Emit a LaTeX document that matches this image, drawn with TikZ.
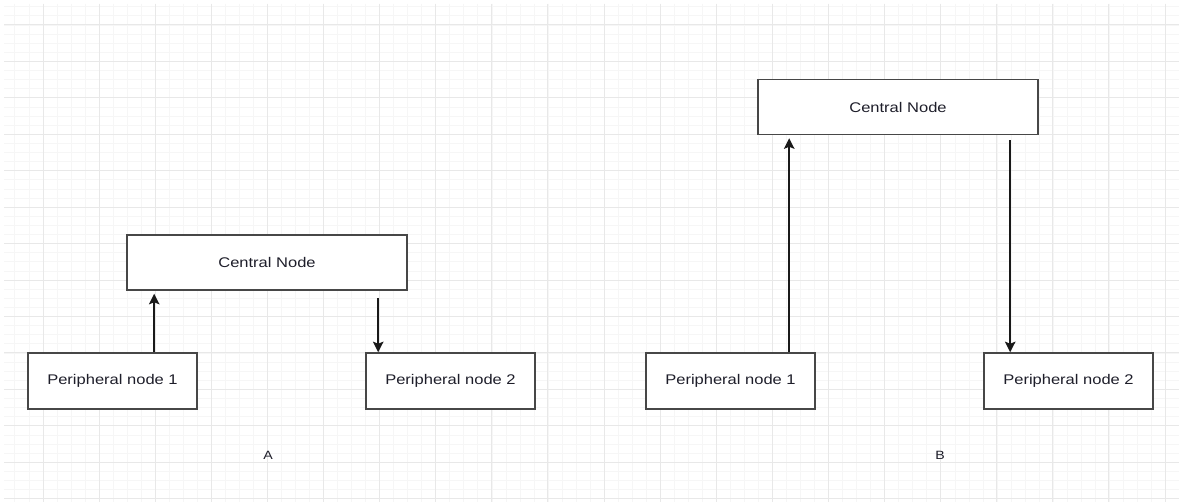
\documentclass[tikz,border=0pt]{standalone}
\usepackage{fontspec}
\newfontfamily\boxfont[FakeStretch=1.18]{Liberation Sans}
\usetikzlibrary{arrows.meta,calc}
\definecolor{gridminor}{HTML}{F6F6F6}
\definecolor{gridmajor}{HTML}{E8E8E8}
\definecolor{boxline}{HTML}{474747}
\definecolor{inktext}{HTML}{1E1E2A}
\begin{document}
\begin{tikzpicture}[x=1pt,y=-1pt,
  box/.style={draw=boxline,line width=1.6pt,fill=white,rectangle,inner sep=0pt,
    font=\boxfont\fontsize{14}{16}\selectfont,text=inktext},
  hub/.style={box,minimum width=280pt,minimum height=55pt},
  leaf/.style={box,minimum width=169pt,minimum height=56pt},
  caption/.style={font=\boxfont\fontsize{12}{14}\selectfont,text=inktext,inner sep=0pt},
  arr/.style={draw=black!90,line width=1.8pt,-{Stealth[length=10.5pt,width=10.5pt,inset=2pt]}}]
\useasboundingbox (0,0) rectangle (1179,503);
\fill[white] (0,0) rectangle (1179,503);
% background grid: minor and major lines
\foreach \k in {-2,...,80} {
  \pgfmathsetmacro\gx{43+14.03*\k}
  \ifdim\gx pt>3pt \draw[gridminor,line width=0.9pt] (\gx,4) -- (\gx,502); \fi
}
\foreach \k in {-2,...,52} {
  \pgfmathsetmacro\gy{25+9.11*\k}
  \ifdim\gy pt>3pt \ifdim\gy pt<503pt \draw[gridminor,line width=0.9pt] (4,\gy) -- (1179,\gy); \fi\fi
}
\foreach \k in {0,...,20} {
  \draw[gridmajor,line width=1pt] (43+56.1*\k,4) -- (43+56.1*\k,502);
}
\foreach \k in {0,...,13} {
  \draw[gridmajor,line width=1pt] (4,25+36.44*\k) -- (1179,25+36.44*\k);
}
% layout A
\node[hub]  (ca)  at (267,262.5)   {Central Node};
\node[leaf] (p1a) at (112.5,381)   {Peripheral node 1};
\node[leaf] (p2a) at (450.5,381)   {Peripheral node 2};
\node[caption] (capa) at (268,455) {A};
\draw[arr,shorten >=3pt] ($(p1a.north west)+(127,0)$) -- ($(ca.south west)+(28,0)$);
\draw[arr,shorten <=7pt] ($(ca.south west)+(252,0)$) -- ($(p2a.north west)+(13,0)$);
% layout B
\node[hub]  (cb)  at (898,107)     {Central Node};
\node[leaf] (p1b) at (730.5,381)   {Peripheral node 1};
\node[leaf] (p2b) at (1068.5,381)  {Peripheral node 2};
\node[caption] (capb) at (940,455) {B};
\draw[arr,shorten >=3pt] ($(p1b.north west)+(144,0)$) -- ($(cb.south west)+(32,0)$);
\draw[arr,shorten <=5pt] ($(cb.south west)+(253,0)$) -- ($(p2b.north west)+(27,0)$);
\end{tikzpicture}
\end{document}
